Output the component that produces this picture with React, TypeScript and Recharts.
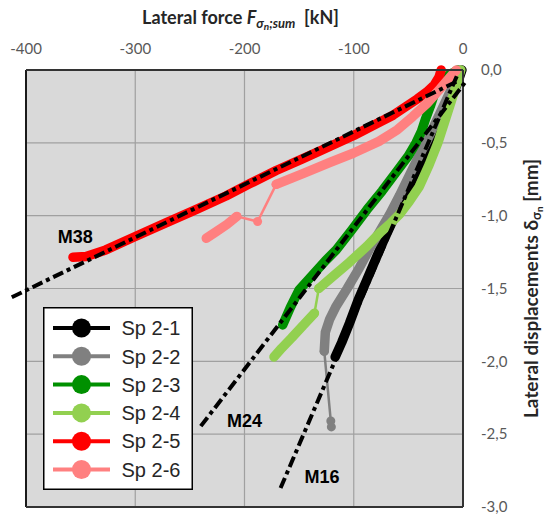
import {
  LineChart, Line, XAxis, YAxis, CartesianGrid, ReferenceLine, ReferenceDot, Legend
} from 'recharts'

type Pt = { x: number; y: number }

// [force kN, displacement mm]
const toPts = (a: number[][]): Pt[] => a.map(([x, y]) => ({ x, y }))

const xTicks = [-400, -300, -200, -100, 0]
const yTicks = [0, -0.5, -1, -1.5, -2, -2.5, -3]

const sp21 = toPts([[-1, 0], [-5, -0.09], [-10, -0.18], [-18, -0.32], [-27, -0.46], [-36, -0.6], [-46, -0.75], [-55, -0.89], [-64, -1.03], [-72, -1.16], [-80, -1.3], [-88, -1.44], [-96, -1.58], [-104, -1.74], [-111, -1.87], [-117, -1.97]])

const sp22 = toPts([[-3, 0], [-10, -0.12], [-20, -0.28], [-32, -0.47], [-45, -0.66], [-58, -0.86], [-67, -0.99], [-78, -1.13], [-86, -1.235], [-95, -1.36], [-106, -1.5], [-116, -1.62], [-122, -1.71], [-126, -1.8], [-127, -1.93]])
const sp22Tail = toPts([[-127, -1.93], [-121, -2.41], [-120.5, -2.45]])

const sp23 = toPts([[-5, 0], [-14, -0.04], [-21, -0.09], [-26, -0.16], [-30, -0.25], [-34, -0.33], [-38, -0.42], [-43, -0.5], [-50, -0.59], [-60, -0.69], [-74, -0.83], [-88, -0.96], [-102, -1.1], [-116, -1.235], [-126, -1.31], [-138, -1.41], [-150, -1.51], [-158, -1.63], [-165, -1.75]])

const sp24a = toPts([[-2, 0], [-6, -0.1], [-11, -0.22], [-17, -0.36], [-23, -0.5], [-31, -0.65], [-40, -0.8], [-49, -0.9], [-58, -0.99], [-66, -1.05], [-75, -1.11], [-88, -1.21], [-104, -1.32], [-118, -1.41], [-132, -1.5]])
const sp24Link = toPts([[-132, -1.5], [-136, -1.67]])
const sp24b = toPts([[-136, -1.67], [-146, -1.75], [-157, -1.84], [-166, -1.91], [-173, -1.97]])

const sp25 = toPts([[-20, 0], [-22, -0.05], [-26, -0.1], [-33, -0.15], [-42, -0.2], [-52, -0.25], [-64, -0.31], [-77, -0.36], [-100, -0.45], [-122, -0.525], [-147, -0.61], [-171, -0.69], [-195, -0.78], [-217, -0.865], [-245, -0.96], [-272, -1.05], [-302, -1.15], [-327, -1.235], [-345, -1.28], [-357, -1.285]])

const sp26a = toPts([[-6, 0], [-13, -0.06], [-21, -0.13], [-33, -0.23], [-46, -0.32], [-60, -0.41], [-77, -0.49], [-100, -0.57], [-122, -0.635], [-146, -0.71], [-171, -0.785]])
const sp26Link = toPts([[-171, -0.785], [-188, -1.04], [-207, -1.005]])
const sp26b = toPts([[-207, -1.005], [-216, -1.06], [-226, -1.11], [-235, -1.155]])

const fitM38 = toPts([[-413, -1.56], [-6, -0.08]])
const fitM24 = toPts([[-240, -2.445], [1.6, -0.088]])
const fitM16 = toPts([[-167, -2.87], [-5, -0.03]])

const fitLabels = [
  { name: 'M38', x: -355, y: -1.146 },
  { name: 'M24', x: -200, y: -2.405 },
  { name: 'M16', x: -129, y: -2.79 },
]

const series = [
  { name: 'Sp 2-1', color: '#000000', bands: [sp21], links: [] as Pt[][] },
  { name: 'Sp 2-2', color: '#808080', bands: [sp22], links: [sp22Tail] },
  { name: 'Sp 2-3', color: '#009000', bands: [sp23], links: [] as Pt[][] },
  { name: 'Sp 2-4', color: '#92d050', bands: [sp24a, sp24b], links: [sp24Link] },
  { name: 'Sp 2-5', color: '#ff0000', bands: [sp25], links: [] as Pt[][] },
  { name: 'Sp 2-6', color: '#ff8080', bands: [sp26a, sp26b], links: [sp26Link] },
]

const fits = [fitM38, fitM24, fitM16]

const labelFont = 'Lato, "Open Sans", sans-serif'
const arial = '"Liberation Sans", Arial, sans-serif'

function XTitle(props: any) {
  const vb = props.viewBox || { x: 26, y: 40, width: 437 }
  const cx = vb.x + vb.width / 2 - 4
  return (
    <text x={cx} y={vb.y - 16} textAnchor="middle" fontFamily={labelFont} fontWeight="bold" fontSize={18} fill="#262626">
      <tspan>Lateral force </tspan>
      <tspan fontStyle="italic">F</tspan>
      <tspan fontStyle="italic" fontSize={13} dy={4}>σ</tspan>
      <tspan fontStyle="italic" fontSize={10} dy={2}>n</tspan>
      <tspan fontStyle="italic" fontSize={13} dy={-2}>;sum</tspan>
      <tspan dy={-4}>{'\u00a0\u00a0[kN]'}</tspan>
    </text>
  )
}

function YTitle(props: any) {
  const vb = props.viewBox || { x: 463, y: 70, width: 60, height: 436 }
  const x = vb.x + 75
  const y = vb.y + vb.height / 2
  return (
    <text x={x} y={y} transform={`rotate(-90 ${x} ${y})`} textAnchor="middle" fontFamily={labelFont} fontWeight="bold" fontSize={19} fill="#262626">
      <tspan>Lateral displacements δ</tspan>
      <tspan fontSize={13} dy={3}>σ</tspan>
      <tspan fontSize={10} dy={1.5}>n</tspan>
      <tspan dy={-4.5}> [mm]</tspan>
    </text>
  )
}

function LegendBox() {
  return (
    <svg width={150} height={183}>
      <rect x={0.75} y={0.75} width={148.5} height={181.5} fill="#ffffff" stroke="#000000" strokeWidth={1.5} />
      {series.map((s, i) => {
        const cy = 21 + i * 28.3
        return (
          <g key={s.name}>
            <line x1={10} x2={67} y1={cy} y2={cy} stroke={s.color} strokeWidth={4} />
            <circle cx={38.5} cy={cy} r={9.5} fill={s.color} />
            <text x={78.5} y={cy} dy="0.36em" fontFamily={arial} fontSize={20} fill="#262626">{s.name}</text>
          </g>
        )
      })}
    </svg>
  )
}

export default function App() {
  return (
    <div style={{ position: 'absolute', left: 0, top: 0, width: 545, height: 517, background: '#ffffff' }}>
      <LineChart width={545} height={517} margin={{ top: 40, right: 22, bottom: 10, left: 26 }}>
        <CartesianGrid fill="#d9d9d9" stroke="#a0a0a0" strokeWidth={1.2} />
        <XAxis
          type="number"
          dataKey="x"
          orientation="top"
          height={30}
          domain={[-400, 0]}
          ticks={xTicks}
          axisLine={false}
          tickLine={false}
          tickSize={0}
          tickMargin={16}
          tick={{ fill: '#595959', fontSize: 15, fontFamily: labelFont }}
          label={<XTitle />}
        />
        <YAxis
          type="number"
          orientation="right"
          width={60}
          domain={[-3, 0]}
          ticks={yTicks}
          axisLine={false}
          tickLine={false}
          tickSize={0}
          tickMargin={18}
          tickFormatter={(v: number) => v.toFixed(1).replace('.', ',')}
          tick={{ fill: '#595959', fontSize: 15, fontFamily: labelFont }}
          label={<YTitle />}
        />
        {series.map(s => [
          ...s.links.map((d, j) => (
            <Line
              key={`${s.name}-link-${j}`}
              data={d}
              dataKey="y"
              stroke={s.color}
              strokeWidth={2.5}
              dot={{ r: 4.5, fill: s.color, stroke: s.color, strokeWidth: 0 }}
              activeDot={false}
              legendType="none"
              isAnimationActive={false}
            />
          )),
          ...s.bands.map((d, j) => (
            <Line
              key={`${s.name}-band-${j}`}
              data={d}
              dataKey="y"
              stroke={s.color}
              strokeWidth={9.5}
              strokeLinecap="round"
              strokeLinejoin="round"
              dot={false}
              activeDot={false}
              legendType="none"
              isAnimationActive={false}
            />
          )),
        ])}
        <ReferenceLine x={-400} stroke="#1a1a1a" strokeWidth={2} />
        <ReferenceLine y={0} stroke="#333333" strokeWidth={2} />
        <ReferenceLine x={0} stroke="#333333" strokeWidth={2} />
        <ReferenceLine y={-3} stroke="#333333" strokeWidth={2} />
        {fits.map((f, i) => (
          <ReferenceLine
            key={`fit-${i}`}
            segment={[f[0], f[1]]}
            ifOverflow="visible"
            stroke="#000000"
            strokeWidth={4}
            strokeDasharray="11 4 4 4"
          />
        ))}
        {fitLabels.map(l => (
          <ReferenceDot
            key={l.name}
            x={l.x}
            y={l.y}
            r={0}
            fill="none"
            stroke="none"
            label={{ value: l.name, position: 'center', fontFamily: arial, fontWeight: 'bold', fontSize: 18, fill: '#000000' }}
          />
        ))}
        <Legend
          layout="vertical"
          align="center"
          verticalAlign="middle"
          content={<LegendBox />}
          wrapperStyle={{ left: 43, top: 307, width: 150, height: 183 }}
        />
      </LineChart>
    </div>
  )
}
